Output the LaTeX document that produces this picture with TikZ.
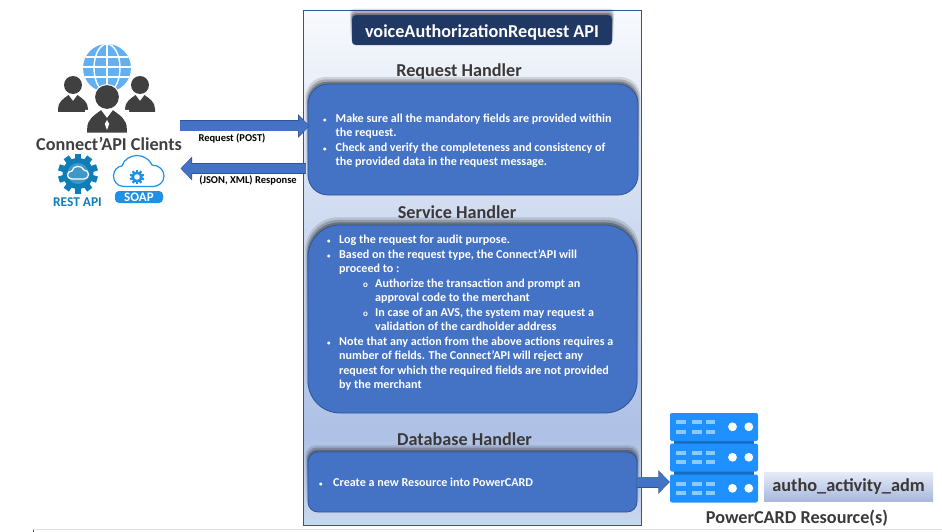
\documentclass[tikz,border=0pt]{standalone}
\usepackage{fontspec}
\setmainfont{Carlito}
\usetikzlibrary{arrows.meta,positioning,shadows,fadings}
\definecolor{darktext}{HTML}{3B3838}
\definecolor{boxblue}{HTML}{4472C4}
\definecolor{boxedge}{HTML}{2F5597}
\definecolor{navy}{HTML}{1F3864}
\definecolor{serverblue}{HTML}{1E90FF}
\definecolor{serverlight}{HTML}{8FC7FF}
\definecolor{globeblue}{HTML}{62B0F4}
\definecolor{gearblue}{HTML}{0F7DB8}
\definecolor{soapblue}{HTML}{1E90E8}
\definecolor{panelone}{HTML}{C9D6EE}
\definecolor{paneltwo}{HTML}{AEC1E6}
\definecolor{panelthree}{HTML}{CFDBF0}
\definecolor{panelfour}{HTML}{F8FAFD}
\definecolor{tablelow}{HTML}{A8B9DE}
\definecolor{tabletop}{HTML}{E6EBF6}
\pgfdeclareverticalshading{panelfade}{100bp}{
  color(0bp)=(panelone); color(25bp)=(panelone); color(34bp)=(paneltwo);
  color(55bp)=(panelthree); color(75bp)=(panelfour); color(100bp)=(panelfour)}
\pgfdeclareverticalshading{tablefade}{100bp}{
  color(0bp)=(tablelow); color(25bp)=(tablelow); color(75bp)=(tabletop); color(100bp)=(tabletop)}
\tikzset{
  soft_shadow/.style={
    general shadow={fill=black,opacity=.12,shadow scale=1.016,shadow yshift=6pt,path fading=south},
    general shadow={fill=black,opacity=.2,shadow scale=1.010,shadow yshift=4pt,path fading=south},
    general shadow={fill=black,opacity=.28,shadow scale=1.005,shadow yshift=2pt,path fading=south}},
  panel_box/.style ={rectangle, draw=boxedge, line width=1pt, shading=panelfade},
  title_box/.style ={rectangle, rounded corners=4pt, fill=navy, draw=boxedge, soft_shadow,
    text=white, font=\fontsize{18.2}{20}\selectfont\bfseries},
  handler_box/.style={rectangle, fill=boxblue, draw=boxedge, line width=.8pt, soft_shadow},
  heading/.style    ={text=darktext, inner sep=0pt, font=\fontsize{18.2}{20}\selectfont\bfseries},
  body_text/.style  ={align=left, inner sep=0pt, text=white,
    font=\fontsize{12.1}{14.5}\selectfont\bfseries},
  flow_label/.style ={inner sep=0pt, font=\fontsize{10.5}{12}\selectfont\bfseries},
  block_arrow/.style={line width=9.5pt, draw=boxblue, shorten >=.8pt,
    -{Triangle[length=10pt,width=20pt]},
    preaction={draw=boxedge, line width=11pt, shorten >=0pt, -{Triangle[length=11.5pt,width=23pt]}}},
  server_unit/.style={rectangle, rounded corners=2pt, fill=serverblue, inner sep=0pt,
    minimum width=88pt, minimum height=28pt},
  person/.pic={
    \fill[pic actions] (0,0) circle (9);
    \fill[pic actions] (-15,27) -- (-15,24) .. controls (-15,17) and (-10,14) .. (-4.5,10)
      -- (0,16) -- (4.5,10) .. controls (10,14) and (15,17) .. (15,24) -- (15,27) -- cycle;
  },
  gear/.pic={
    \fill[pic actions] (0,0) circle (15.5);
    \foreach \a in {0,36,...,324}
      \fill[pic actions,rotate=\a] (-3.2,-20) rectangle (3.2,0);
  },
  server_marks/.pic={
    \foreach \x/\w in {5.7/10,22.3/9.5,35.7/9.5}
      \foreach \y in {7.3,16.7}
        \fill[serverlight] (\x,\y) rectangle ++(\w,4);
    \foreach \x in {62.7,79}
      \fill[white] (\x,14) circle (4.4);
  }
}
\newcommand{\dotmark}{{\fontsize{7}{7}\selectfont\textbullet}}
\newcommand{\ringmark}{{\fontsize{9}{9}\selectfont o}}
\newcommand{\tabto}[2]{\makebox[#1][l]{#2}}

\begin{document}
\begin{tikzpicture}[x=1pt,y=-1pt]
\useasboundingbox (0,0) rectangle (942,532);
\draw[black!12] (33,529.5) -- (942,529.5);
\draw[black!70] (33,529.5) -- (33,532);

% Main panel and its title
\node[panel_box, minimum width=338pt, minimum height=515pt] (panel) at (472.5,268) {};
\node[title_box, minimum width=260pt, minimum height=30pt, text depth=0pt, yshift=0pt] (title) at (482,30) {\raisebox{-1.5pt}{voiceAuthorizationRequest API}};

% The three handlers
\node[heading] (reqhead) at (459,72) {Request Handler};
\node[handler_box, rounded corners=20pt, minimum width=330pt, minimum height=111pt] (reqhandler) at (473,139.5) {};
\node[heading] (servhead) at (457,212) {Service Handler};
\node[handler_box, rounded corners=32pt, minimum width=329pt, minimum height=188pt] (servhandler) at (472.5,319) {};
\node[heading] (dbhead) at (464.5,439) {Database Handler};
\node[handler_box, rounded corners=10pt, minimum width=329pt, minimum height=60pt] (dbhandler) at (472.5,482) {};

\node[body_text, anchor=west] (reqtext) at (323,141) {%
  \tabto{12.5pt}{\dotmark}Make sure all the mandatory fields are provided within\\
  \tabto{12.5pt}{}the request.\\
  \tabto{12.5pt}{\dotmark}Check and verify the completeness and consistency of\\
  \tabto{12.5pt}{}the provided data in the request message.};
\node[body_text, anchor=west] (servtext) at (327,313) {%
  \tabto{12pt}{\dotmark}Log the request for audit purpose.\\
  \tabto{12pt}{\dotmark}Based on the request type, the Connect’API will\\
  \tabto{12pt}{}proceed to :\\
  \tabto{48pt}{\hspace{36pt}\ringmark}Authorize the transaction and prompt an\\
  \tabto{48pt}{}approval code to the merchant\\
  \tabto{48pt}{\hspace{36pt}\ringmark}In case of an AVS, the system may request a\\
  \tabto{48pt}{}validation of the cardholder address\\
  \tabto{12pt}{\dotmark}Note that any action from the above actions requires a\\
  \tabto{12pt}{}number of fields. The Connect’API will reject any\\
  \tabto{12pt}{}request for which the required fields are not provided\\
  \tabto{12pt}{}by the merchant};
\node[body_text, anchor=west] (dbtext) at (319,482.5) {%
  \tabto{14pt}{\dotmark}Create a new Resource into PowerCARD};

% Clients: globe and people
\fill[globeblue] (107,68) circle (24);
\begin{scope}
  \clip (107,68) circle (24);
  \draw[white, line width=1.4pt] (107,44) -- (107,92) (83,57) -- (131,57) (83,67) -- (131,67) (83,77) -- (131,77);
  \draw[white, line width=1.4pt] (107,68) ellipse (13 and 24);
\end{scope}
\pic[fill=black!75] at (73,85) {person};
\pic[fill=black!75] at (140,85) {person};
\fill[white] (107,97) circle (13) (85,133) rectangle (129,110);
\pic[fill=black!75, scale=1.32] at (107,97) {person};
\fill[white] (107,120) -- (104.8,124) -- (107,130) -- (109.2,124) -- cycle;
\node[heading, text=black!75] (clients) at (109,144) {Connect’API Clients};

% REST icon
\pic[fill=gearblue] at (78,173.5) {gear};
\fill[white!20!gearblue] (78,173.5) circle (10.5);
\draw[white, line width=1.3pt] (72,179) .. controls (66,179) and (66,171) .. (72,171)
  .. controls (73,165) and (82,165) .. (84,170) .. controls (90,170) and (90,179) .. (84,179) -- cycle;
\node[inner sep=0pt, text=gearblue, font=\fontsize{13.4}{15}\selectfont\bfseries] (rest) at (77.5,202) {REST API};

% SOAP icon
\draw[soapblue, line width=1.2pt] (124,186.5) .. controls (117,186.5) and (113.5,181) .. (113.5,176)
  .. controls (113.5,170) and (118,166) .. (122,166) .. controls (124,159) and (131,155.5) .. (137,155.5)
  .. controls (144,155.5) and (150,160) .. (152,165) .. controls (159,165) and (164,170) .. (164,176)
  .. controls (164,182) and (159,186.5) .. (153,186.5) -- cycle;
\pic[fill=soapblue, scale=.36] at (137,177) {gear};
\fill[white] (137,177) circle (2.8);
\node[rectangle, rounded corners=4pt, fill=soapblue, text=white, inner sep=0pt, minimum width=48pt,
  minimum height=12pt, font=\fontsize{13}{12}\selectfont\bfseries] (soap) at (139,197) {SOAP};

% Request and response arrows
\coordinate (reqtail) at (180,126);
\coordinate (resptail) at (180.5,168.5);
\draw[block_arrow] (reqtail) -- ([xshift=2pt]reqhandler.west|-reqtail);
\draw[block_arrow] ([xshift=-2pt]reqhandler.west|-resptail) -- (resptail);
\node[flow_label] (reqlabel) at (232,138.5) {Request (POST)};
\node[flow_label] (resplabel) at (248,180.5) {(JSON, XML) Response};

% PowerCARD servers
\fill[serverblue!75!black] (674,439) rectangle (754,477);
\foreach \name/\y in {serverone/427,servertwo/457.5,serverthree/488.5} {
  \node[server_unit] (\name) at (714,\y) {};
  \pic at (\name.north west) {server_marks};
}
\node[rectangle, shading=tablefade, minimum width=169pt, minimum height=29pt, inner sep=0pt,
  text=darktext, font=\fontsize{18.3}{20}\selectfont\bfseries] (table) at (848.5,486.5) {\raisebox{-1.5pt}{autho\_activity\_adm}};
\node[heading] (resources) at (797,518) {PowerCARD Resource(s)};
\draw[block_arrow] (dbhandler.east) -- (serverthree.west|-dbhandler);
\end{tikzpicture}
\end{document}
